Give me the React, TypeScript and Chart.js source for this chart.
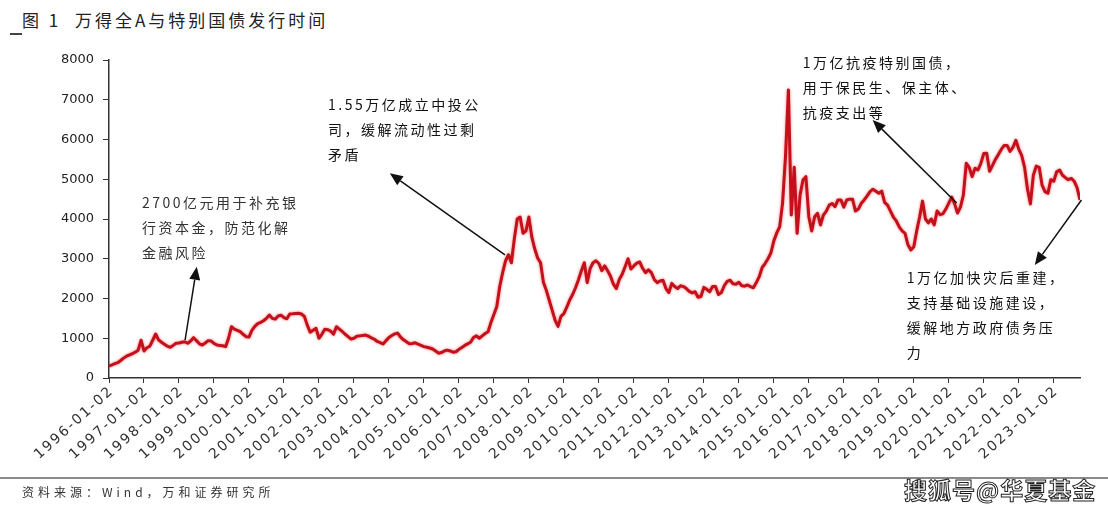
import React, { useEffect, useRef } from 'react';
import { Chart, registerables } from 'chart.js';

Chart.register(...registerables);

const TITLE_PREFIX = '图 1';
const TITLE = '万得全A与特别国债发行时间';
const SOURCE = '资料来源：Wind，万和证券研究所';
const WATERMARK = '搜狐号@华夏基金';

const YEARS = [
  1996, 1997, 1998, 1999, 2000, 2001, 2002, 2003, 2004, 2005, 2006, 2007, 2008, 2009,
  2010, 2011, 2012, 2013, 2014, 2015, 2016, 2017, 2018, 2019, 2020, 2021, 2022, 2023,
];
const X_TICK_LABELS = YEARS.map((y) => `${y}-01-02`);
const Y_MIN = 0;
const Y_MAX = 8000;
const Y_STEP = 1000;

// Wind All A, monthly readings (first month = 1996-01)
const VALUES_1996_1999 = [
  302, 330, 360, 385, 440, 500, 550, 579, 610, 650, 700, 950,
  680, 760, 800, 950, 1107, 960, 900, 850, 800, 772, 820, 873,
  880, 900, 913, 873, 930, 1014, 940, 860, 830, 880, 940, 930,
  870, 830, 820, 810, 788, 1000, 1291, 1230, 1200, 1165, 1100, 1040,
];
const VALUES_2000_2005 = [
  1030, 1200, 1300, 1370, 1400, 1440, 1500, 1585, 1500, 1480, 1560, 1580,
  1520, 1490, 1610, 1615, 1625, 1628, 1610, 1550, 1330, 1150, 1200, 1250,
  1000, 1100, 1225, 1215, 1180, 1100, 1291, 1230, 1170, 1100, 1040, 980,
  1000, 1050, 1060, 1070, 1080, 1050, 1010, 975, 920, 890, 855, 940,
  1020, 1070, 1110, 1130, 1030, 960, 910, 860, 870, 885, 850, 820,
  790, 775, 755, 730, 680, 625, 640, 680, 700, 680, 650, 660,
];
const VALUES_2006_2010 = [
  720, 770, 820, 860, 900, 1020, 1060, 1000, 1060, 1120, 1165, 1400,
  1600, 1800, 2300, 2650, 2950, 3100, 2900, 3500, 4000, 4050, 3640, 3700,
  4050, 3550, 3250, 3020, 2900, 2400, 2200, 1950, 1700, 1450, 1300, 1550,
  1620, 1780, 1962, 2100, 2270, 2470, 2700, 2900, 2400, 2750, 2900, 2950,
  2880, 2700, 2820, 2700, 2560, 2360, 2250, 2480, 2610, 2800, 3000, 2740,
];
const VALUES_2011_2015 = [
  2820, 2890, 2920, 2760, 2650, 2720, 2650, 2480, 2400, 2440, 2460, 2250,
  2150, 2380, 2300, 2250, 2320, 2300, 2250, 2180, 2140, 2170, 2030, 2050,
  2280, 2230, 2170, 2300, 2300, 2100, 2150, 2320, 2430, 2460, 2370, 2360,
  2410, 2320, 2310, 2340, 2300, 2270, 2400, 2550, 2780, 2880, 3000, 3150,
  3450, 3650, 3800, 4400, 5568, 7246, 4100, 5300, 3640, 4600, 4982, 5065,
];
const VALUES_2016_2020 = [
  4058, 3700, 4058, 4144, 3850, 4100, 4200, 4350, 4390, 4310, 4480, 4480,
  4300, 4478, 4500, 4500, 4200, 4250, 4395, 4480, 4580, 4690, 4750, 4700,
  4650, 4700, 4420, 4350, 4200, 4050, 3950, 3800, 3700, 3640, 3350, 3220,
  3300, 3700, 4050, 4450, 4000, 3900, 4000, 3850, 4200, 4110, 4130, 4250,
  4400, 4550, 4380, 4150, 4300, 4600, 5400, 5300, 5065, 5276, 5233, 5400,
];
const VALUES_2021_2023 = [
  5650, 5653, 5200, 5350, 5500, 5620, 5750, 5850, 5850, 5700, 5800, 5980,
  5760, 5600, 5300, 4750, 4380, 5100, 5330, 5300, 4850, 4690, 4650, 4990,
  4950, 5190, 5230, 5100, 5040, 4990, 5020, 4950, 4790, 4480,
];

const SERIES = [
  ...VALUES_1996_1999,
  ...VALUES_2000_2005,
  ...VALUES_2006_2010,
  ...VALUES_2011_2015,
  ...VALUES_2016_2020,
  ...VALUES_2021_2023,
];

// annotation anchors in data units: [month index, value]
const ANNOTATIONS = [
  {
    lines: ['2700亿元用于补充银', '行资本金，防范化解', '金融风险'],
    text: [11.3, 4403],
    tail: [26.1, 956],
    tip: [30.1, 2800],
  },
  {
    lines: ['1.55万亿成立中投公', '司，缓解流动性过剩', '矛盾'],
    text: [75.1, 6869],
    tail: [135.8, 3095],
    tip: [96.3, 5150],
  },
  {
    lines: ['1万亿抗疫特别国债，', '用于保民生、保主体、', '抗疫支出等'],
    text: [237.9, 7925],
    tail: [290.7, 4403],
    tip: [261.9, 6491],
  },
  {
    lines: ['1万亿加快灾后重建，', '支持基础设施建设，', '缓解地方政府债务压', '力'],
    text: [273.6, 2516],
    tail: [333.5, 4478],
    tip: [317.5, 2843],
  },
];

function drawArrow(ctx: CanvasRenderingContext2D, x0: number, y0: number, x1: number, y1: number) {
  const ang = Math.atan2(y1 - y0, x1 - x0);
  const headLen = 13;
  const headHalf = 5.5;
  const bx = x1 - Math.cos(ang) * headLen;
  const by = y1 - Math.sin(ang) * headLen;
  ctx.beginPath();
  ctx.moveTo(x0, y0);
  ctx.lineTo(bx, by);
  ctx.strokeStyle = '#111';
  ctx.lineWidth = 1.5;
  ctx.stroke();
  ctx.beginPath();
  ctx.moveTo(x1, y1);
  ctx.lineTo(bx + Math.sin(ang) * headHalf, by - Math.cos(ang) * headHalf);
  ctx.lineTo(bx - Math.sin(ang) * headHalf, by + Math.cos(ang) * headHalf);
  ctx.closePath();
  ctx.fillStyle = '#111';
  ctx.fill();
}

const overlayPlugin = {
  id: 'overlay',
  beforeDatasetsDraw(chart: any) {
    const ctx = chart.ctx;
    ctx.save();
    ctx.shadowColor = 'rgba(240,40,40,0.6)';
    ctx.shadowBlur = 3;
  },
  afterDatasetsDraw(chart: any) {
    chart.ctx.restore();
  },
  afterDraw(chart: any) {
    const ctx: CanvasRenderingContext2D = chart.ctx;
    const xs = chart.scales.x;
    const ys = chart.scales.y;
    // x tick labels (rotated)
    ctx.save();
    ctx.font = '14px "DejaVu Sans"';
    (ctx as any).letterSpacing = '2px';
    ctx.fillStyle = '#333';
    ctx.textAlign = 'right';
    ctx.textBaseline = 'middle';
    const angle = (42 * Math.PI) / 180;
    X_TICK_LABELS.forEach((label, i) => {
      const px = xs.getPixelForValue(i * 12);
      ctx.save();
      ctx.translate(px + 3, ys.bottom + 11);
      ctx.rotate(-angle);
      ctx.fillText(label, 0, 0);
      ctx.restore();
    });
    ctx.restore();

    // annotations
    ctx.save();
    ctx.font = '14px "Noto Sans CJK SC"';
    (ctx as any).letterSpacing = '2.5px';
    ctx.fillStyle = '#333';
    ctx.textAlign = 'left';
    ctx.textBaseline = 'middle';
    ANNOTATIONS.forEach((a) => {
      const tx = xs.getPixelForValue(a.text[0]);
      const ty = ys.getPixelForValue(a.text[1]);
      a.lines.forEach((line, i) => ctx.fillText(line, tx, ty + i * 25));
      drawArrow(
        ctx,
        xs.getPixelForValue(a.tail[0]),
        ys.getPixelForValue(a.tail[1]),
        xs.getPixelForValue(a.tip[0]),
        ys.getPixelForValue(a.tip[1])
      );
    });
    ctx.restore();
  },
};

export default function App() {
  const canvasRef = useRef<HTMLCanvasElement | null>(null);

  useEffect(() => {
    if (!canvasRef.current) return;
    const chart = new Chart(canvasRef.current, {
      type: 'line',
      data: {
        datasets: [
          {
            label: '万得全A',
            data: SERIES.map((v, i) => ({ x: i, y: v })),
            borderColor: '#c4101b',
            borderWidth: 3,
            pointRadius: 0,
            tension: 0,
            borderJoinStyle: 'round',
            fill: false,
          },
        ],
      },
      options: {
        responsive: false,
        animation: false,
        layout: { padding: { left: 0, top: 60, right: 28, bottom: 0 } },
        plugins: {
          legend: { display: false },
          tooltip: { enabled: false },
        },
        scales: {
          x: {
            type: 'linear',
            min: 0,
            max: SERIES.length - 1,
            afterBuildTicks: (scale: any) => {
              scale.ticks = X_TICK_LABELS.map((_, i) => ({ value: i * 12 }));
            },
            afterFit: (scale: any) => {
              scale.height = 134;
            },
            ticks: { display: false, autoSkip: false },
            grid: { drawOnChartArea: false, drawTicks: true, tickLength: 5, color: '#333', lineWidth: 1 },
            border: { display: true, color: '#333', width: 1.5 },
          },
          y: {
            min: Y_MIN,
            max: Y_MAX,
            afterFit: (scale: any) => {
              scale.width = 109;
            },
            ticks: {
              stepSize: Y_STEP,
              color: '#222',
              padding: 9,
              font: { family: 'DejaVu Sans', size: 13 },
              callback: (v: any) => String(v),
            },
            grid: { drawOnChartArea: false, drawTicks: true, tickLength: 6, color: '#333', lineWidth: 1 },
            border: { display: true, color: '#333', width: 1.5 },
          },
        },
      },
      plugins: [overlayPlugin],
    });
    return () => chart.destroy();
  }, []);

  return (
    <div
      style={{
        position: 'absolute',
        left: 0,
        top: 0,
        width: 1108,
        height: 512,
        background: '#fff',
        overflow: 'hidden',
        fontFamily: '"Noto Sans CJK SC", sans-serif',
      }}
    >
      <div style={{ position: 'absolute', left: 22, top: 9, fontSize: 17, lineHeight: '22px', color: '#222', letterSpacing: 3 }}>
        {TITLE_PREFIX}
      </div>
      <div style={{ position: 'absolute', left: 75, top: 9, fontSize: 17, lineHeight: '22px', color: '#222', letterSpacing: 3 }}>
        {TITLE}
      </div>
      <div style={{ position: 'absolute', left: 10, top: 33, width: 12, height: 1.5, background: '#444' }} />
      <canvas ref={canvasRef} width={1108} height={512} style={{ position: 'absolute', left: 0, top: 0 }} />
      <div style={{ position: 'absolute', left: 0, top: 477, width: 1108, height: 2, background: '#8a8a8a' }} />
      <div style={{ position: 'absolute', left: 22, top: 484, fontSize: 12, lineHeight: '16px', color: '#333', letterSpacing: 4 }}>
        {SOURCE}
      </div>
      <div
        style={{
          position: 'absolute',
          left: 904,
          top: 475,
          fontSize: 23,
          lineHeight: '28px',
          fontWeight: 700,
          color: '#fff',
          letterSpacing: 1,
          WebkitTextStroke: '1px #222',
        }}
      >
        {WATERMARK}
      </div>
    </div>
  );
}
